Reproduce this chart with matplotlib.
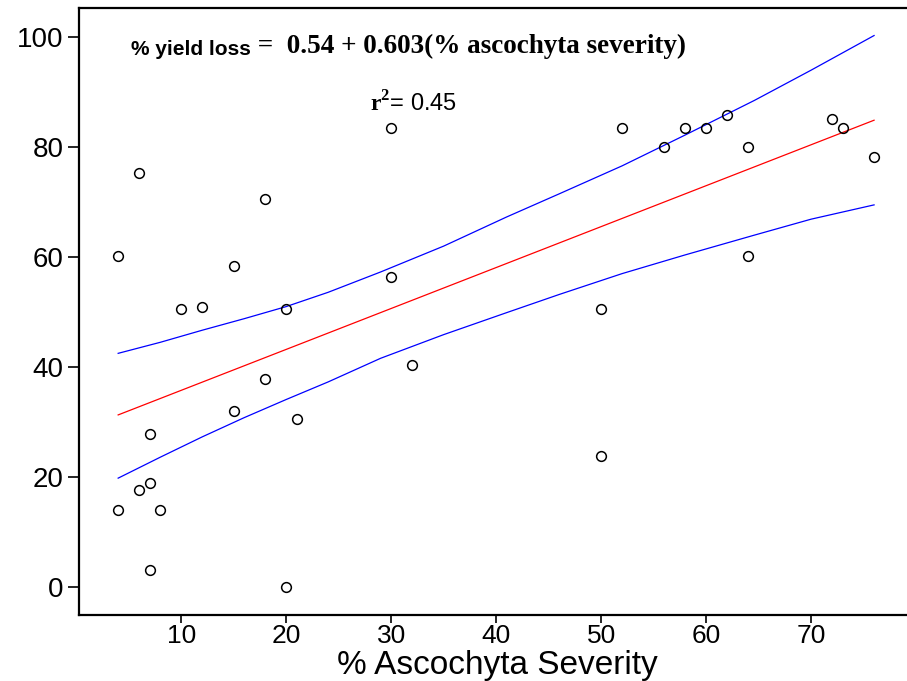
import numpy as np
import matplotlib
matplotlib.use("Agg")
import matplotlib.pyplot as plt

plt.rcParams['font.family'] = ['Liberation Sans', 'DejaVu Sans']
plt.rcParams['mathtext.fontset'] = 'custom'
plt.rcParams['mathtext.bf'] = 'Liberation Serif:bold'
plt.rcParams['mathtext.rm'] = 'Liberation Serif'

# observed points (% ascochyta severity, % yield loss)
severity = [4, 4, 6, 6, 7, 7, 7, 8, 10, 12, 15, 15, 18, 18, 20, 20, 21,
            30, 30, 32, 50, 50, 52, 56, 58, 60, 62, 64, 64, 72, 73, 76]
yield_loss = [14, 60.2, 75.3, 17.6, 27.8, 18.9, 3.1, 14, 50.5, 50.9, 58.4, 32,
              70.5, 37.8, 50.5, 0, 30.5, 83.5, 56.4, 40.4, 50.5, 23.8, 83.5,
              80, 83.5, 83.5, 85.8, 80, 60.2, 85.1, 83.5, 78.2]

# fitted line (red) end points
fit_x = [4, 76]
fit_y = [31.3, 84.9]

# band (blue)
band_x = [4, 8, 12, 16, 20, 24, 29, 35, 41, 46, 52, 58, 64.6, 70, 76]
band_upper = [42.5, 44.5, 46.7, 48.8, 51.0, 53.6, 57.3, 62.0, 67.3, 71.5,
              76.6, 82.2, 88.5, 94.0, 100.3]
band_lower = [19.8, 23.6, 27.3, 30.8, 34.1, 37.3, 41.6, 45.9, 49.9, 53.2,
              57.0, 60.4, 64.0, 66.9, 69.5]

fig = plt.figure(figsize=(9.07, 6.81), dpi=100)
ax = fig.add_axes([79/907, 1-614.5/681, 1-79/907 + 0.01, (614.5-7.5)/681])

ax.plot(band_x, band_upper, color='#0000ff', lw=0.9)
ax.plot(band_x, band_lower, color='#0000ff', lw=0.9)
ax.plot(fit_x, fit_y, color='#ff0000', lw=0.9)
ax.plot(severity, yield_loss, 'o', ms=7, mfc='none', mec='black', mew=1.1)

ax.set_xlim(0.27, 80)
ax.set_ylim(-5.0, 105.4)
ax.set_xticks([10, 20, 30, 40, 50, 60, 70])
ax.set_yticks([0, 20, 40, 60, 80, 100])

for s in ['left', 'bottom', 'top']:
    ax.spines[s].set_linewidth(1.6)
ax.spines['right'].set_visible(False)

ax.tick_params(axis='y', direction='out', length=8, width=1.2, labelsize=20, pad=3)
ax.tick_params(axis='x', direction='out', length=6, width=1.2, labelsize=19, pad=1)

ax.set_xlabel('% Ascochyta Severity', fontsize=24, labelpad=1)

t1 = ax.text(5.2, 96.7, '% yield loss', fontsize=15, fontweight='bold',
             family=['Liberation Sans Narrow', 'Liberation Sans'], va='baseline')
ax.annotate(' =  0.54 + 0.603(% ascochyta severity)', xy=(1, 0), xycoords=t1,
            va='bottom', ha='left', fontsize=19.5, fontweight='bold',
            family='Liberation Serif')

ax.text(28.0, 86.4, r'$\mathbf{r}^{\mathbf{2}}$= 0.45', fontsize=17,
        family=['Liberation Sans Narrow', 'Liberation Sans'], va='baseline')

fig.savefig('out.png', dpi=100)
